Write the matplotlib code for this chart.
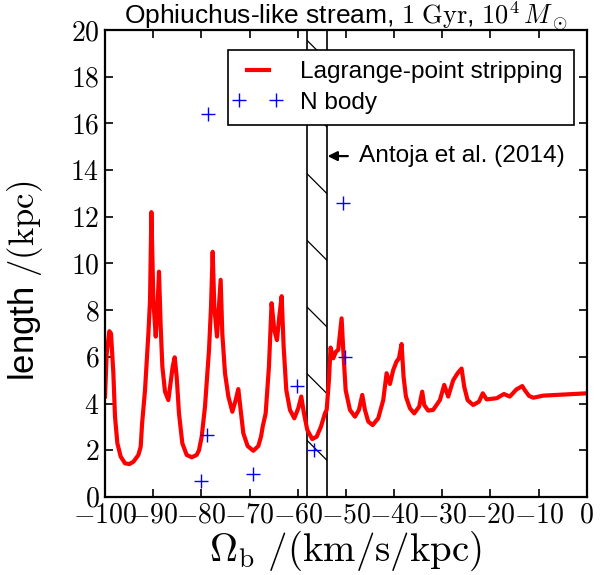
import numpy as np
import matplotlib
matplotlib.use("Agg")
import matplotlib.pyplot as plt
from matplotlib.legend_handler import HandlerLine2D

plt.rcParams['mathtext.fontset'] = 'cm'
plt.rcParams['font.family'] = ['Liberation Sans', 'DejaVu Sans']
plt.rcParams['hatch.linewidth'] = 0.45

# Lagrange-point stripping curve (Omega_b, length)
omega = [-100.0, -99.65, -99.1, -98.76, -98.27, -97.93, -97.44, -96.75, -95.85, -94.95, -94.1, -93.08,
         -92.6, -92.3, -91.7, -91.0, -90.66, -90.38, -89.97, -89.48, -89.14, -88.8, -88.45, -88.1,
         -87.55, -86.86, -86.37, -85.96, -85.54, -85.13, -84.65, -83.96, -83.05, -82.0, -80.98,
         -80.5, -79.94, -79.25, -78.42, -78.0, -77.66, -77.32, -76.76, -76.35, -76.0, -75.66, -75.1,
         -74.4, -73.58, -72.88, -72.34, -71.85, -71.3, -70.4, -69.22, -68.19, -67.63, -67.28, -66.66,
         -65.98, -65.43, -64.87, -64.32, -63.83, -63.34, -62.93, -62.38, -61.62, -60.72, -59.89,
         -59.27, -58.71, -58.02, -56.99, -56.08, -55.19, -54.36, -54.0, -53.53, -53.19, -52.63,
         -52.07, -51.6, -50.9, -50.56, -50.06, -49.17, -48.13, -47.3, -46.61, -46.06, -45.37, -44.46,
         -43.3, -42.26, -41.56, -40.87, -40.18, -39.5, -39.0, -38.45, -38.04, -37.55, -36.72, -35.83,
         -34.8, -34.17, -33.76, -32.93, -31.9, -30.5, -29.6, -28.78, -27.74, -26.83, -26.0, -25.45,
         -24.75, -23.6, -22.4, -21.6, -20.8, -18.7, -17.2, -16.0, -14.6, -13.4, -12.9, -12.0, -11.1,
         -9.1, -5.6, 0.0]
length = [4.3, 6.15, 7.1, 7.0, 5.3, 3.44, 2.3, 1.73, 1.44, 1.41, 1.51, 1.8,
          2.15, 3.16, 4.58, 7.0, 8.44, 12.2, 8.44, 6.87, 8.0, 9.65, 7.3, 5.58,
          4.51, 4.15, 4.94, 5.58, 5.98, 5.15, 3.58, 2.3, 1.8, 1.7, 1.8,
          2.0, 2.58, 3.87, 6.3, 8.15, 10.5, 8.15, 6.87, 8.15, 9.3, 7.0, 5.3,
          4.3, 3.65, 4.15, 4.62, 3.73, 2.73, 2.18, 1.98, 2.18, 2.58, 3.01, 3.58,
          5.58, 8.3, 7.15, 6.72, 7.72, 8.6, 6.44, 4.58, 3.73, 3.37, 3.8,
          4.3, 3.58, 2.87, 2.48, 2.58, 3.01, 3.58, 3.73, 5.0, 6.4, 5.94,
          6.22, 6.3, 7.65, 6.3, 4.58, 3.73, 3.44, 3.73, 4.37, 3.73, 3.23, 3.08,
          3.37, 4.15, 5.3, 4.84, 5.44, 5.8, 5.94, 6.55, 5.15, 4.3, 3.8, 3.58,
          3.87, 4.51, 3.94, 3.7, 3.73, 4.15, 4.8, 4.3, 5.0, 5.3, 5.5, 4.72,
          4.15, 3.94, 4.08, 4.44, 4.18, 4.23, 4.41, 4.3, 4.61, 4.75, 4.58, 4.33, 4.25,
          4.34, 4.38, 4.44]

# N-body points
nb_omega = [-78.6, -78.8, -80.1, -69.3, -60.2, -56.6, -50.6, -50.2]
nb_length = [16.4, 2.65, 0.7, 1.0, 4.75, 2.0, 12.6, 6.0]

band = (-58.0, -54.0)

fig = plt.figure(figsize=(3.025, 2.875), dpi=200)
ax = fig.add_axes([0.1736, 0.1357, 0.7964, 0.8121])

ax.plot(omega, length, color='red', lw=1.5, solid_joinstyle='round',
        label='Lagrange-point stripping')
nb_line, = ax.plot(nb_omega, nb_length, ls='none', marker='+', color='blue', ms=5, mew=0.5,
                   label='N body')
ax.axvspan(band[0], band[1], facecolor='none', edgecolor='black', hatch='\\', lw=0.6)

ax.annotate('Antoja et al. (2014)', xy=(band[1] + 0.2, 14.6), xytext=(-47.3, 14.6),
            fontsize=8.8, va='center', ha='left',
            arrowprops=dict(arrowstyle='-|>', color='black', lw=0.8, mutation_scale=7,
                            shrinkA=2, shrinkB=0))

ax.set_xlim(-100, 0)
ax.set_ylim(0, 20)
xt = list(range(-100, 1, 10))
yt = list(range(0, 21, 2))
ax.set_xticks(xt)
ax.set_xticklabels(['$%d$' % v for v in xt])
ax.set_yticks(yt)
ax.set_yticklabels(['$%d$' % v for v in yt])
ax.tick_params(direction='in', top=True, right=True, labelsize=10, length=3, width=0.6, pad=2)
for s in ax.spines.values():
    s.set_linewidth(0.8)

ax.set_xlabel(r'$\Omega_{\rm b}\ /(\mathrm{km/s/kpc})$', fontsize=14, labelpad=0)
ax.set_ylabel(r'length $/(\mathrm{kpc})$', fontsize=12.5)
ax.yaxis.set_label_coords(-0.125, 0.462)
ax.set_title(r'Ophiuchus-like stream, $1\ \mathrm{Gyr}$, $10^4\,M_\odot$', fontsize=9.5, pad=2)

leg = ax.legend(loc='upper right', bbox_to_anchor=(0.973, 0.957), borderaxespad=0,
                fontsize=8.8, numpoints=2, fancybox=False, edgecolor='black', framealpha=1,
                handlelength=1.5, handletextpad=1.0, labelspacing=0.35, borderpad=0.45,
                handler_map={nb_line: HandlerLine2D(numpoints=2, marker_pad=0)})
leg.get_frame().set_linewidth(0.6)

fig.savefig('out.png', dpi=200)
